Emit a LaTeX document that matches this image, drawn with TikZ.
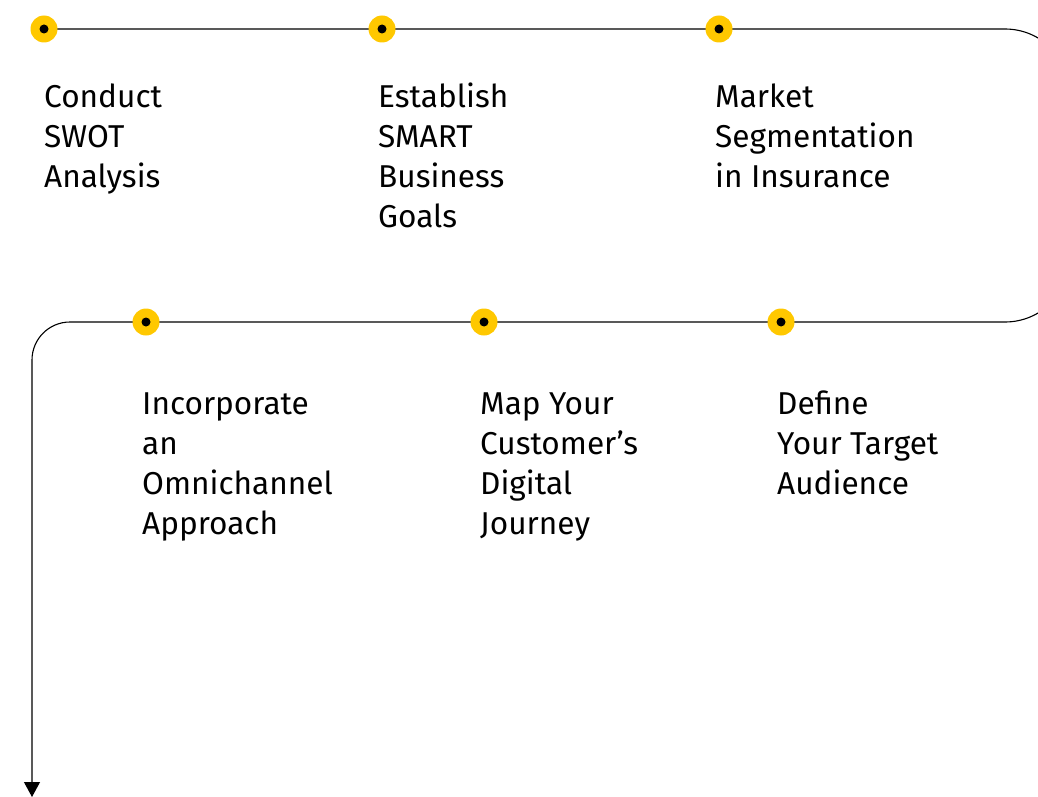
\documentclass[tikz,border=0pt]{standalone}
\usepackage{fontspec}
\setmainfont{Fira Sans}
\usetikzlibrary{arrows.meta}
\definecolor{dotyellow}{HTML}{FFC800}
\begin{document}
\begin{tikzpicture}[x=1pt,y=1pt,
  dot/.style={circle,fill=dotyellow,minimum size=27pt,inner sep=0pt,
    path picture={\fill[black] (path picture bounding box.center) circle[radius=4.5pt];}},
  label/.style={anchor=north west,align=left,inner sep=0pt,font=\fontsize{31.6}{40}\selectfont},
  flow/.style={draw=black,line width=1.1pt}]
\useasboundingbox (0,0) rectangle (1038,-797);
\coordinate (r1) at (1005,-29);
\coordinate (l1) at (70,-322);
\coordinate (end) at (32,-797);
\draw[flow,-{Triangle[length=15pt,width=16pt]}] (44,-29) -- (r1) arc[start angle=90,end angle=0,radius=65] -- (1070,-257) arc[start angle=0,end angle=-90,radius=65] -- (l1) arc[start angle=90,end angle=180,radius=38] -- (end);
\node[dot] (d1) at (44,-29) {};
\node[dot] (d2) at (382,-29) {};
\node[dot] (d3) at (719,-29) {};
\node[dot] (d4) at (146,-322) {};
\node[dot] (d5) at (484,-322) {};
\node[dot] (d6) at (781,-322) {};
\node[label] (t1) at (44,-79) {\strut Conduct\\SWOT\\Analysis};
\node[label] (t2) at (378,-79) {\strut Establish\\SMART\\Business\\Goals};
\node[label] (t3) at (715,-79) {\strut Market\\Segmentation\\in Insurance};
\node[label] (t4) at (142,-386) {\strut Incorporate\\an\\Omnichannel\\Approach};
\node[label] (t5) at (480,-386) {\strut Map Your\\Customer’s\\Digital\\Journey};
\node[label] (t6) at (777,-386) {\strut Define\\Your Target\\Audience};
\end{tikzpicture}
\end{document}
